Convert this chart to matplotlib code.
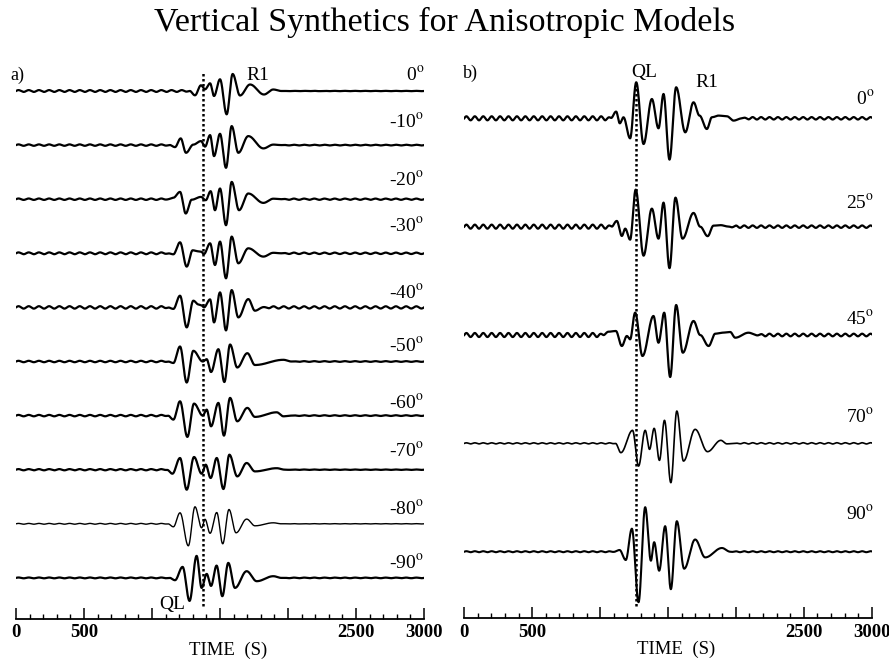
import numpy as np
import matplotlib
matplotlib.use("Agg")
import matplotlib.pyplot as plt
from matplotlib.ticker import MultipleLocator, FixedLocator, FixedFormatter

plt.rcParams['font.family'] = ['Liberation Serif', 'DejaVu Serif']
plt.rcParams['mathtext.fontset'] = 'stix'

# ---- panel a: azimuths, wave-train extrema (time in s, amplitude in px) ----
az_a = [0, -10, -20, -30, -40, -50, -60, -70, -80, -90]
a_times = [
    [1316, 1360, 1390, 1427, 1456, 1500, 1549, 1593, 1647, 1721, 1823, 1892],
    [1169, 1211, 1250, 1304, 1360, 1390, 1427, 1456, 1500, 1544, 1586, 1635, 1708, 1819, 1892],
    [1157, 1206, 1248, 1292, 1360, 1395, 1431, 1463, 1500, 1544, 1586, 1640, 1708, 1819, 1892],
    [1157, 1206, 1255, 1299, 1341, 1360, 1382, 1427, 1463, 1500, 1544, 1586, 1635, 1708, 1819, 1892],
    [1157, 1206, 1255, 1304, 1341, 1365, 1382, 1427, 1456, 1500, 1544, 1586, 1635, 1708, 1757],
    [1157, 1206, 1255, 1304, 1373, 1402, 1434, 1488, 1532, 1574, 1627, 1701, 1757, 1966],
    [1157, 1206, 1260, 1309, 1373, 1402, 1434, 1488, 1529, 1574, 1627, 1701, 1757, 1917, 1966],
    [1150, 1206, 1255, 1309, 1365, 1395, 1431, 1476, 1525, 1569, 1627, 1696, 1757, 1917],
    [1157, 1206, 1267, 1316, 1365, 1390, 1427, 1476, 1520, 1566, 1618, 1696, 1757, 1892],
    [1169, 1225, 1276, 1328, 1365, 1402, 1434, 1475, 1517, 1561, 1610, 1696, 1770, 1892],
]
a_amps = [
    [-4.3, 5.7, 1.7, 7.7, -5, 11.7, -23.3, 17, -4.5, 6.5, -3.5, 1.5],
    [-2, 6.7, -7.7, 0.5, 4, -1.5, 10, -11, 11.3, -22.7, 19, -7.7, 9, -3.3, 0.5],
    [1.5, 7.3, -14.3, -0.5, 2.3, -1, 8, -11, 10.7, -26, 17.3, -11, 5.7, -3.7, 0.5],
    [-1, 11, -13.3, 3, 2, 1.7, -0.7, 10, -11.7, 11.7, -25, 16.7, -10, 5, -3.3, 0.5],
    [-1.5, 11.7, -20, 6.7, 3, 2, 0, 8, -15, 15, -23, 17.3, -10, 8.3, -3.3],
    [-1.5, 15, -21, 10.7, 0, 2.3, -10.5, 12.3, -20.5, 17, -6, 8.3, -3.5, 1.7],
    [-4, 14.3, -21.3, 12, 0, 6, -10.7, 12.7, -20, 17.7, -5.7, 7.7, -1.3, 3.3, -0.7],
    [-4, 11.7, -20, 12.7, -4, 5, -8.3, 11.7, -19.3, 15, -6.7, 6.7, -1.7, 1.5],
    [-3, 11, -22, 17, -4, 4.5, -9.5, 11.3, -20, 14.3, -9, 4.7, -2, 1],
    [-2.3, 11, -23, 22, -10, 4, -8, 12.3, -18.3, 15, -10, 6.7, -3.3, 1.7],
]
a_ripple_left = [0.9, 0.7, 0.7, 0.9, 1.2, 0.7, 0.7, 0.6, 0.4, 0.4]
a_ripple_right = [0.15, 0.35, 0.6, 0.7, 1.1, 0.35, 0.35, 0.2, 0.15, 0.3]
a_label_rise = [16, 23, 19, 27, 15, 16, 13, 19, 15, 15]
a_lw = [1.6, 1.6, 1.6, 1.6, 1.6, 1.6, 1.6, 1.6, 1.0, 1.6]

# ---- panel b ----
az_b = [0, 25, 45, 70, 90]
b_times = [
    [1118, 1145, 1172, 1221, 1266, 1320, 1381, 1430, 1467, 1511, 1560, 1627, 1688, 1732, 1786, 1823, 1872, 1934, 1983],
    [1123, 1160, 1185, 1221, 1262, 1320, 1381, 1430, 1467, 1511, 1555, 1607, 1688, 1737, 1792, 1835, 1887],
    [1062, 1116, 1160, 1197, 1221, 1258, 1312, 1393, 1430, 1472, 1516, 1560, 1609, 1688, 1737, 1799, 1848, 1897, 1958, 1995, 2093],
    [1153, 1239, 1283, 1332, 1364, 1398, 1437, 1474, 1521, 1565, 1614, 1700, 1791, 1889, 1934],
    [1143, 1189, 1234, 1283, 1332, 1374, 1398, 1435, 1479, 1521, 1565, 1619, 1700, 1774, 1897],
]
b_amps = [
    [6.7, -5, 1, -20, 36, -25.7, 19.3, -10, 24.3, -41.3, 31, -14, 16, 2.7, -10.7, 1, 2.7, 2, -2.3],
    [5.7, -9.3, -2, -13, 37, -29, 18, -12, 24, -41.5, 29, -12, 13.7, 0, -9.5, 1, 1.5],
    [3.3, 4, -11, -1, -4.3, 22.3, -21, 19, -7.7, 22.3, -42, 30, -17.7, 14, 0, -11, 1.3, 2.3, 3, -2.7, 2.3],
    [-9.3, 13, -22.7, 13, -6, 15, -17, 23, -39.3, 32.3, -17.7, 14, -8.3, 3, -0.5],
    [1.7, -8.3, 23, -50.5, 44.5, -9, 9.5, -19, 25.5, -37.5, 30.5, -17, 12.2, -5.7, 3.7],
]
b_ripple_left = [2.0, 2.0, 2.0, 0.5, 0.5]
b_ripple_right = [1.2, 1.2, 1.3, 0.6, 0.5]
b_label_rise = [19, 24, 16, 26, 38]
b_lw = [1.6, 1.6, 1.6, 1.2, 1.5]

ql_time_a = 1372
ql_time_b = 1263
tick_labels = ['0', '500', '', '', '', '2500', '3000']

t = np.arange(0, 3001, 1.0)


def seismogram(times, amps, rip_left, rip_right, period):
    # smooth half-cosine path through the picked extrema
    tp = [times[0] - 40] + list(times) + [times[-1] + 60]
    ap = [0.0] + list(amps) + [0.0]
    y = np.zeros_like(t)
    for k in range(len(tp) - 1):
        m = (t >= tp[k]) & (t <= tp[k + 1])
        u = (t[m] - tp[k]) / (tp[k + 1] - tp[k])
        y[m] = ap[k] + (ap[k + 1] - ap[k]) * (1 - np.cos(np.pi * u)) / 2
    # background ripple before and after the main train
    w_left = np.clip((tp[0] + 20 - t) / 60, 0, 1)
    w_right = np.clip((t - tp[-1] + 20) / 80, 0, 1)
    env = rip_left * w_left + rip_right * w_right
    return y + env * np.sin(2 * np.pi * t / period)


def setup_axis(ax):
    ax.set_xlim(0, 3000)
    for s in ['top', 'left', 'right']:
        ax.spines[s].set_visible(False)
    ax.spines['bottom'].set_linewidth(1.3)
    ax.set_yticks([])
    ax.xaxis.set_major_locator(FixedLocator(np.arange(0, 3001, 500)))
    ax.xaxis.set_major_formatter(FixedFormatter(tick_labels))
    ax.xaxis.set_minor_locator(MultipleLocator(100))
    ax.tick_params(axis='x', which='major', direction='in', length=8, width=1.1,
                   pad=4, labelsize=13.5)
    ax.tick_params(axis='x', which='minor', direction='in', length=3.5, width=1.0)
    for lab in ax.get_xticklabels():
        lab.set_fontweight('bold')
    ax.text(0.52, -0.057, 'TIME  (S)', transform=ax.transAxes,
            ha='center', va='center', fontsize=13.5)


fig = plt.figure(figsize=(8.89, 6.61), dpi=100)
fig.text(0.5, 1 - 22 / 661, 'Vertical Synthetics for Anisotropic Models',
         ha='center', va='center', fontsize=24.5)

# panel a
gap_a = 54.1
ax1 = fig.add_axes([16 / 889, 42.3 / 661, 408 / 889, 558.7 / 661])
setup_axis(ax1)
ax1.set_ylim(-527.7, 31)
for i, az in enumerate(az_a):
    y = seismogram(a_times[i], a_amps[i], a_ripple_left[i], a_ripple_right[i], 75)
    ax1.plot(t, y - i * gap_a, color='black', lw=a_lw[i])
    ax1.text(3000, -i * gap_a + a_label_rise[i], f'{az}' + r'$^{\rm o}$',
             ha='right', va='center', fontsize=14)
ax1.vlines(ql_time_a, -515, 18, colors='black', linestyles=(0, (1, 1)), lw=1.8)
ax1.text(-44, 16, 'a)', ha='left', va='center', fontsize=13)
ax1.text(1779, 16, 'R1', ha='center', va='center', fontsize=14)
ax1.text(1147, -514, 'QL', ha='center', va='center', fontsize=14)

# panel b
gap_b = 108.35
ax2 = fig.add_axes([464.3 / 889, 43 / 661, 407.4 / 889, 558 / 661])
setup_axis(ax2)
ax2.set_ylim(-499.7, 58.3)
for i, az in enumerate(az_b):
    y = seismogram(b_times[i], b_amps[i], b_ripple_left[i], b_ripple_right[i], 62)
    ax2.plot(t, y - i * gap_b, color='black', lw=b_lw[i])
    ax2.text(3018, -i * gap_b + b_label_rise[i], f'{az}' + r'$^{\rm o}$',
             ha='right', va='center', fontsize=14, clip_on=False)
ax2.vlines(ql_time_b, -488, 37, colors='black', linestyles=(0, (1, 1)), lw=1.8)
ax2.text(-10, 45, 'b)', ha='left', va='center', fontsize=13)
ax2.text(1323, 46, 'QL', ha='center', va='center', fontsize=14)
ax2.text(1786, 36, 'R1', ha='center', va='center', fontsize=14)

fig.savefig('out.png', dpi=100)
